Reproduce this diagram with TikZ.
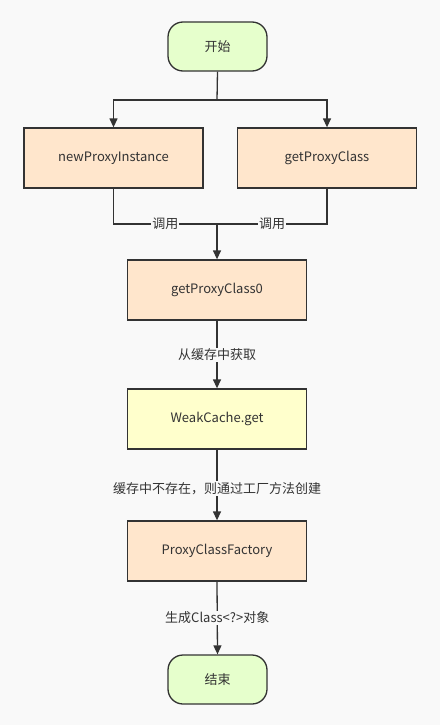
\documentclass[tikz,border=0pt]{standalone}
\usepackage{fontspec}
\setmainfont{Noto Sans CJK SC}
\usetikzlibrary{arrows.meta,positioning}
\definecolor{pagebg}{RGB}{249,249,249}
\definecolor{linegrey}{RGB}{51,51,51}
\definecolor{termgreen}{RGB}{230,255,204}
\definecolor{steporange}{RGB}{255,230,204}
\definecolor{cacheyellow}{RGB}{255,255,204}

\begin{document}
\begin{tikzpicture}[x=1pt, y=-1pt,
    font=\fontsize{13}{15}\selectfont,
    terminal/.style={rectangle, rounded corners=15pt, draw=linegrey, line width=1.3pt, fill=termgreen,
        text=linegrey, minimum width=99pt, minimum height=49pt, inner sep=0pt},
    stepbox/.style={rectangle, draw=linegrey, line width=1.3pt, fill=#1,
        text=linegrey, minimum width=179pt, minimum height=60pt, inner sep=0pt},
    stepbox/.default=steporange,
    link/.style={draw=linegrey, line width=1.3pt},
    arr/.style={link, -{Triangle[length=9pt, width=8pt]}},
    lbl/.style={fill=pagebg, text=linegrey, inner sep=1pt}
]
    % page
    \fill[pagebg] (0,0) rectangle (440,725);
    \useasboundingbox (0,0) rectangle (440,725);

    % nodes
    \node[terminal] (start) at (217.5,46.5) {开始};
    \node[stepbox] (newinst) at (113.5,158) {newProxyInstance};
    \node[stepbox] (getcls) at (327,158) {getProxyClass};
    \node[stepbox] (getcls0) at (217,290) {getProxyClass0};
    \node[stepbox=cacheyellow] (weak) at (217,419) {WeakCache.get};
    \node[stepbox] (factory) at (217,551) {ProxyClassFactory};
    \node[terminal] (stop) at (217.5,679.5) {结束};

    % split and merge points
    \coordinate (split) at (217,100);
    \coordinate (merge) at (217,224);

    % connectors
    \draw[link] (start.south) -- (split);
    \draw[arr] (split) -| (newinst.north);
    \draw[arr] (split) -| (getcls.north);
    \draw[link] (newinst.south) |- node[pos=0.75, lbl] {调用} (merge);
    \draw[link] (getcls.south) |- node[pos=0.75, lbl] {调用} (merge);
    \draw[arr] (merge) -- (getcls0.north);
    \draw[arr] (getcls0.south) -- node[lbl, pos=0.5] {从缓存中获取} (weak.north);
    \draw[arr] (weak.south) -- node[lbl, pos=0.55] {缓存中不存在，则通过工厂方法创建} (factory.north);
    \draw[arr] (factory.south) -- node[lbl, pos=0.5] {生成Class<?>对象} (stop.north);
\end{tikzpicture}
\end{document}
